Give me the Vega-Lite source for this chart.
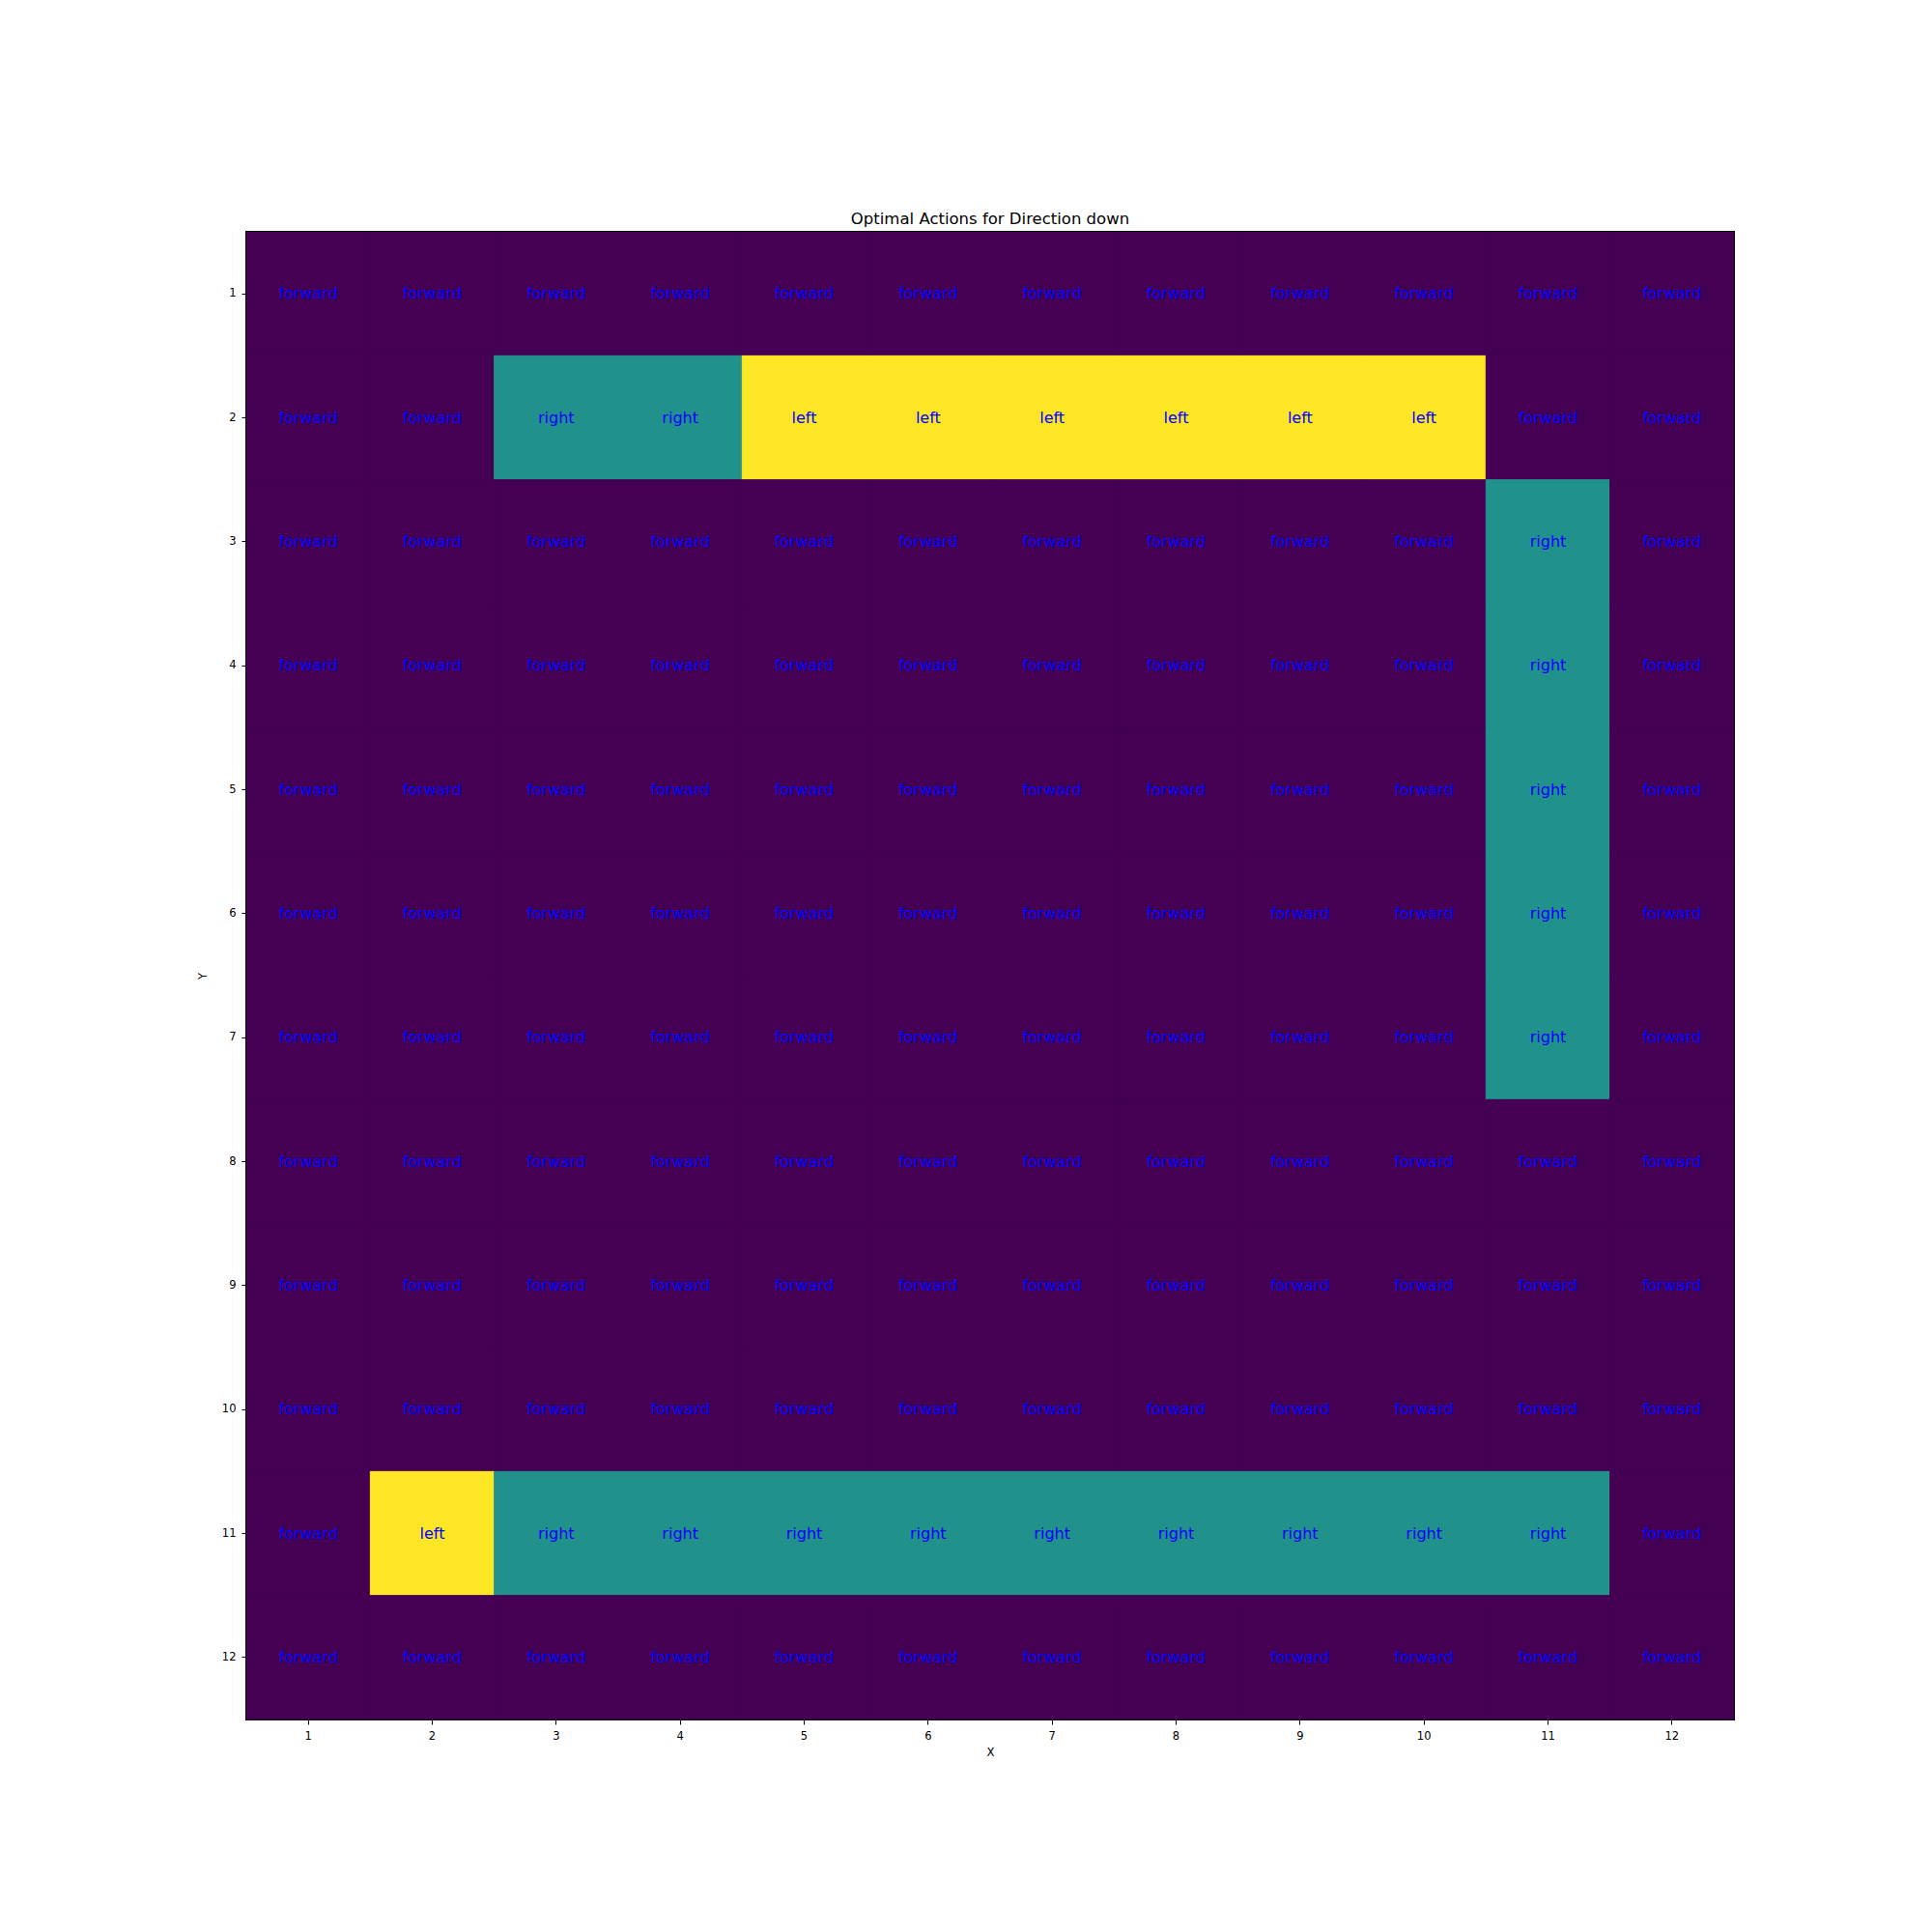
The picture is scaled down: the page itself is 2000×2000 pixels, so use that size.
{
  "$schema": "https://vega.github.io/schema/vega-lite/v6.json",
  "width": 1540,
  "height": 1540,
  "autosize": {"type": "none"},
  "padding": {"left": 255, "top": 240, "right": 205, "bottom": 220},
  "background": "white",
  "config": {
    "font": "DejaVu Sans",
    "view": {"stroke": "black", "strokeWidth": 2},
    "axis": {"grid": false, "domain": false, "tickColor": "black", "tickSize": 5, "labelColor": "black", "labelFontSize": 11.5, "labelFont": "DejaVu Sans", "titleFont": "DejaVu Sans", "titleFontWeight": "normal", "titleFontSize": 11.5, "titleColor": "black", "labelPadding": 6}
  },
  "title": {"text": "Optimal Actions for Direction down", "fontSize": 16.5, "fontWeight": "normal", "font": "DejaVu Sans", "color": "black", "offset": 5},
  "data": {"values": [
    {"x":1,"y":1,"a":"forward"},{"x":2,"y":1,"a":"forward"},{"x":3,"y":1,"a":"forward"},{"x":4,"y":1,"a":"forward"},{"x":5,"y":1,"a":"forward"},{"x":6,"y":1,"a":"forward"},{"x":7,"y":1,"a":"forward"},{"x":8,"y":1,"a":"forward"},{"x":9,"y":1,"a":"forward"},{"x":10,"y":1,"a":"forward"},{"x":11,"y":1,"a":"forward"},{"x":12,"y":1,"a":"forward"},
    {"x":1,"y":2,"a":"forward"},{"x":2,"y":2,"a":"forward"},{"x":3,"y":2,"a":"right"},{"x":4,"y":2,"a":"right"},{"x":5,"y":2,"a":"left"},{"x":6,"y":2,"a":"left"},{"x":7,"y":2,"a":"left"},{"x":8,"y":2,"a":"left"},{"x":9,"y":2,"a":"left"},{"x":10,"y":2,"a":"left"},{"x":11,"y":2,"a":"forward"},{"x":12,"y":2,"a":"forward"},
    {"x":1,"y":3,"a":"forward"},{"x":2,"y":3,"a":"forward"},{"x":3,"y":3,"a":"forward"},{"x":4,"y":3,"a":"forward"},{"x":5,"y":3,"a":"forward"},{"x":6,"y":3,"a":"forward"},{"x":7,"y":3,"a":"forward"},{"x":8,"y":3,"a":"forward"},{"x":9,"y":3,"a":"forward"},{"x":10,"y":3,"a":"forward"},{"x":11,"y":3,"a":"right"},{"x":12,"y":3,"a":"forward"},
    {"x":1,"y":4,"a":"forward"},{"x":2,"y":4,"a":"forward"},{"x":3,"y":4,"a":"forward"},{"x":4,"y":4,"a":"forward"},{"x":5,"y":4,"a":"forward"},{"x":6,"y":4,"a":"forward"},{"x":7,"y":4,"a":"forward"},{"x":8,"y":4,"a":"forward"},{"x":9,"y":4,"a":"forward"},{"x":10,"y":4,"a":"forward"},{"x":11,"y":4,"a":"right"},{"x":12,"y":4,"a":"forward"},
    {"x":1,"y":5,"a":"forward"},{"x":2,"y":5,"a":"forward"},{"x":3,"y":5,"a":"forward"},{"x":4,"y":5,"a":"forward"},{"x":5,"y":5,"a":"forward"},{"x":6,"y":5,"a":"forward"},{"x":7,"y":5,"a":"forward"},{"x":8,"y":5,"a":"forward"},{"x":9,"y":5,"a":"forward"},{"x":10,"y":5,"a":"forward"},{"x":11,"y":5,"a":"right"},{"x":12,"y":5,"a":"forward"},
    {"x":1,"y":6,"a":"forward"},{"x":2,"y":6,"a":"forward"},{"x":3,"y":6,"a":"forward"},{"x":4,"y":6,"a":"forward"},{"x":5,"y":6,"a":"forward"},{"x":6,"y":6,"a":"forward"},{"x":7,"y":6,"a":"forward"},{"x":8,"y":6,"a":"forward"},{"x":9,"y":6,"a":"forward"},{"x":10,"y":6,"a":"forward"},{"x":11,"y":6,"a":"right"},{"x":12,"y":6,"a":"forward"},
    {"x":1,"y":7,"a":"forward"},{"x":2,"y":7,"a":"forward"},{"x":3,"y":7,"a":"forward"},{"x":4,"y":7,"a":"forward"},{"x":5,"y":7,"a":"forward"},{"x":6,"y":7,"a":"forward"},{"x":7,"y":7,"a":"forward"},{"x":8,"y":7,"a":"forward"},{"x":9,"y":7,"a":"forward"},{"x":10,"y":7,"a":"forward"},{"x":11,"y":7,"a":"right"},{"x":12,"y":7,"a":"forward"},
    {"x":1,"y":8,"a":"forward"},{"x":2,"y":8,"a":"forward"},{"x":3,"y":8,"a":"forward"},{"x":4,"y":8,"a":"forward"},{"x":5,"y":8,"a":"forward"},{"x":6,"y":8,"a":"forward"},{"x":7,"y":8,"a":"forward"},{"x":8,"y":8,"a":"forward"},{"x":9,"y":8,"a":"forward"},{"x":10,"y":8,"a":"forward"},{"x":11,"y":8,"a":"forward"},{"x":12,"y":8,"a":"forward"},
    {"x":1,"y":9,"a":"forward"},{"x":2,"y":9,"a":"forward"},{"x":3,"y":9,"a":"forward"},{"x":4,"y":9,"a":"forward"},{"x":5,"y":9,"a":"forward"},{"x":6,"y":9,"a":"forward"},{"x":7,"y":9,"a":"forward"},{"x":8,"y":9,"a":"forward"},{"x":9,"y":9,"a":"forward"},{"x":10,"y":9,"a":"forward"},{"x":11,"y":9,"a":"forward"},{"x":12,"y":9,"a":"forward"},
    {"x":1,"y":10,"a":"forward"},{"x":2,"y":10,"a":"forward"},{"x":3,"y":10,"a":"forward"},{"x":4,"y":10,"a":"forward"},{"x":5,"y":10,"a":"forward"},{"x":6,"y":10,"a":"forward"},{"x":7,"y":10,"a":"forward"},{"x":8,"y":10,"a":"forward"},{"x":9,"y":10,"a":"forward"},{"x":10,"y":10,"a":"forward"},{"x":11,"y":10,"a":"forward"},{"x":12,"y":10,"a":"forward"},
    {"x":1,"y":11,"a":"forward"},{"x":2,"y":11,"a":"left"},{"x":3,"y":11,"a":"right"},{"x":4,"y":11,"a":"right"},{"x":5,"y":11,"a":"right"},{"x":6,"y":11,"a":"right"},{"x":7,"y":11,"a":"right"},{"x":8,"y":11,"a":"right"},{"x":9,"y":11,"a":"right"},{"x":10,"y":11,"a":"right"},{"x":11,"y":11,"a":"right"},{"x":12,"y":11,"a":"forward"},
    {"x":1,"y":12,"a":"forward"},{"x":2,"y":12,"a":"forward"},{"x":3,"y":12,"a":"forward"},{"x":4,"y":12,"a":"forward"},{"x":5,"y":12,"a":"forward"},{"x":6,"y":12,"a":"forward"},{"x":7,"y":12,"a":"forward"},{"x":8,"y":12,"a":"forward"},{"x":9,"y":12,"a":"forward"},{"x":10,"y":12,"a":"forward"},{"x":11,"y":12,"a":"forward"},{"x":12,"y":12,"a":"forward"}
  ]},
  "encoding": {
    "x": {"field": "x", "type": "ordinal", "title": "X", "scale": {"paddingInner": 0, "paddingOuter": 0}, "axis": {"labelAngle": 0, "titlePadding": 6}},
    "y": {"field": "y", "type": "ordinal", "title": "Y", "scale": {"paddingInner": 0, "paddingOuter": 0}, "axis": {"titlePadding": 14}}
  },
  "layer": [
    {"mark": {"type": "rect", "strokeWidth": 1, "strokeOpacity": 1, "clip": true},
     "encoding": {
       "color": {"field": "a", "type": "nominal", "legend": null,
         "scale": {"domain": ["forward", "right", "left"], "range": ["#440154", "#21918c", "#fde725"]}},
       "stroke": {"field": "a", "type": "nominal", "legend": null,
         "scale": {"domain": ["forward", "right", "left"], "range": ["#440154", "#21918c", "#fde725"]}}}},
    {"mark": {"type": "text", "color": "#0000ff", "fontSize": 16, "font": "DejaVu Sans", "baseline": "middle", "align": "center"},
     "encoding": {"text": {"field": "a"}}}
  ]
}
